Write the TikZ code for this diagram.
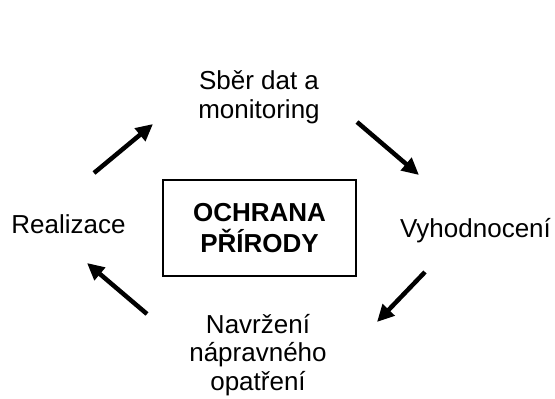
\documentclass[tikz,border=0pt]{standalone}
\usepackage{fontspec}
\setmainfont{Liberation Sans}
\usetikzlibrary{arrows.meta}

\begin{document}
\begin{tikzpicture}[x=1pt,y=-1pt,
    label/.style={inner sep=0pt,align=center,font=\fontsize{26}{28.5}\selectfont},
    titlebox/.style={draw,line width=1.6pt,inner sep=0pt,minimum width=193pt,minimum height=96pt,align=center,font=\fontsize{26}{31}\selectfont\bfseries},
    cyclearrow/.style={line width=4.5pt,-{Triangle[length=17pt,width=16pt]}}]
      \useasboundingbox (0,0) rectangle (555,399);
      \node[titlebox](center) at (259.5,228){OCHRANA\\PŘÍRODY};
      \node[label](sber) at (259,97){Sběr dat a\\monitoring};
      \node[label,anchor=base](vyhod) at (475.5,237){Vyhodnocení};
      \node[label](navrh) at (258,355){Navržení\\nápravného\\opatření};
      \node[label,anchor=base](real) at (68.5,233){Realizace};
      \coordinate (a1) at (94,173);
      \coordinate (b1) at (153,124);
      \coordinate (a2) at (357,122);
      \coordinate (b2) at (419,175);
      \coordinate (a3) at (425,272);
      \coordinate (b3) at (377,322);
      \coordinate (a4) at (147,314);
      \coordinate (b4) at (87,263);
      \draw[cyclearrow] (a1) -- (b1);
      \draw[cyclearrow] (a2) -- (b2);
      \draw[cyclearrow] (a3) -- (b3);
      \draw[cyclearrow] (a4) -- (b4);
\end{tikzpicture}
\end{document}
